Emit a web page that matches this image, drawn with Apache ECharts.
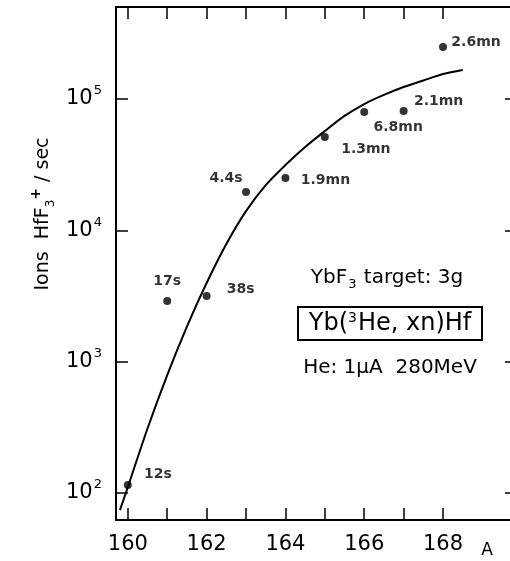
<!DOCTYPE html>
<html><head><meta charset="utf-8">
<script src="https://cdn.jsdelivr.net/npm/echarts@6/dist/echarts.min.js"></script>
<style>html,body{margin:0;padding:0;background:#fff}#c{width:510px;height:561px}</style>
</head><body><div id="c"></div>
<script>
// ---- data ----
const massNumbers = [160, 161, 162, 163, 164, 165, 166, 167, 168];
const ionRates = [115, 2900, 3160, 19600, 25000, 51400, 79500, 81100, 249000];
const halfLives = ['12s', '17s', '38s', '4.4s', '1.9mn', '1.3mn', '6.8mn', '2.1mn', '2.6mn'];
const curveMass = [159.8, 160, 160.5, 161, 161.5, 162, 162.5, 163, 163.5, 164, 164.5, 165, 165.5, 166, 166.5, 167, 167.5, 168, 168.5];
const curveRates = [74, 111, 310, 790, 1850, 3970, 7870, 14000, 22100, 31400, 43100, 57000, 74300, 91600, 107500, 123400, 138300, 155000, 166300];
const xTickValues = [160, 161, 162, 163, 164, 165, 166, 167, 168];
const xLabelValues = [160, 162, 164, 166, 168];
const yTickValues = [100, 1000, 10000, 100000];

// ---- layout ----
const labelOffsets = [[30, -11], [0, -20], [34, -7], [-20, -14], [40, 2], [41, 12], [34, 15], [35, -10], [33, -5]];
const FONT = 'DejaVu Sans';
const black = '#000';
const axisLineStyle = { color: black, width: 2 };
const tickStyle = { color: black, width: 1.5 };

const chart = echarts.init(document.getElementById('c'), null, { renderer: 'canvas' });
const xCommon = { type: 'value', min: 159.7, max: 169.7, splitLine: { show: false } };
const yCommon = { type: 'log', logBase: 10, min: 62.3, max: 501800, splitLine: { show: false }, minorTick: { show: false } };

chart.setOption({
  animation: false,
  backgroundColor: '#fff',
  grid: { left: 116, right: 0, top: 7, bottom: 41 },
  xAxis: [
    Object.assign({}, xCommon, {
      position: 'bottom',
      axisLine: { show: true, lineStyle: axisLineStyle },
      axisTick: { show: true, inside: true, length: 12, customValues: xTickValues, lineStyle: tickStyle },
      axisLabel: { customValues: xLabelValues, color: black, fontSize: 21, fontFamily: FONT, margin: 14 }
    }),
    Object.assign({}, xCommon, {
      position: 'top',
      axisLine: { show: true, lineStyle: axisLineStyle },
      axisTick: { show: true, inside: true, length: 12, customValues: xTickValues, lineStyle: tickStyle },
      axisLabel: { show: false }
    })
  ],
  yAxis: [
    Object.assign({}, yCommon, {
      position: 'left',
      axisLine: { show: true, lineStyle: axisLineStyle },
      axisTick: { show: true, inside: true, length: 12, customValues: yTickValues, lineStyle: tickStyle },
      axisLabel: {
        customValues: yTickValues, margin: 14, color: black, fontFamily: FONT,
        formatter: v => '{b|10}{sup|' + Math.round(Math.log10(v)) + '}',
        rich: {
          b: { fontSize: 21, fontFamily: FONT, color: black },
          sup: { fontSize: 13, fontFamily: FONT, color: black, verticalAlign: 'top', padding: [0, 0, 16, 1] }
        }
      }
    }),
    Object.assign({}, yCommon, {
      position: 'right',
      axisLine: { show: false },
      axisTick: { show: true, inside: true, length: 5, customValues: yTickValues, lineStyle: tickStyle },
      axisLabel: { show: false }
    })
  ],
  series: [
    {
      type: 'line',
      xAxisIndex: 0, yAxisIndex: 0,
      data: curveMass.map((m, i) => [m, curveRates[i]]),
      smooth: 0.3,
      symbol: 'none',
      lineStyle: { color: black, width: 2 },
      z: 2
    },
    {
      type: 'scatter',
      xAxisIndex: 0, yAxisIndex: 0,
      data: massNumbers.map((m, i) => ({ value: [m, ionRates[i]], label: { offset: labelOffsets[i] } })),
      symbol: 'circle',
      symbolSize: 8,
      itemStyle: { color: black },
      label: {
        show: true, position: 'inside', align: 'center', verticalAlign: 'middle',
        formatter: p => halfLives[p.dataIndex],
        color: black, fontSize: 14, fontWeight: 'bold', fontFamily: FONT, textBorderWidth: 0
      },
      z: 3
    }
  ],
  graphic: [
    {
      type: 'text', x: 43, y: 214, rotation: Math.PI / 2,
      style: {
        text: '{m|Ions  HfF}{sub|3}{sup|+}{m| / sec}',
        align: 'center', verticalAlign: 'middle', fill: black,
        rich: {
          m: { fontSize: 19, fontFamily: FONT, fill: black, lineHeight: 22 },
          sub: { fontSize: 12, fontFamily: FONT, fill: black, verticalAlign: 'bottom', padding: [10, 0, 0, 0] },
          sup: { fontSize: 14, fontFamily: FONT, fill: black, fontWeight: 'bold', verticalAlign: 'top', padding: [0, 0, 14, 0] }
        }
      }
    },
    {
      type: 'text', x: 387, y: 278,
      style: {
        text: '{m|YbF}{sub|3}{m| target: 3g}',
        align: 'center', verticalAlign: 'middle', fill: black,
        rich: {
          m: { fontSize: 20, fontFamily: FONT, fill: black, lineHeight: 22 },
          sub: { fontSize: 13, fontFamily: FONT, fill: black, verticalAlign: 'bottom', padding: [13, 1, 0, 1] }
        }
      }
    },
    {
      type: 'rect', shape: { x: 298, y: 307, width: 184, height: 33 },
      style: { fill: 'none', stroke: black, lineWidth: 2 }
    },
    {
      type: 'text', x: 390, y: 324,
      style: {
        text: '{m|Yb(}{sup|3}{m|He, xn)Hf}',
        align: 'center', verticalAlign: 'middle', fill: black,
        rich: {
          m: { fontSize: 24, fontFamily: FONT, fill: black, lineHeight: 26 },
          sup: { fontSize: 14, fontFamily: FONT, fill: black, verticalAlign: 'top', padding: [1, 1, 12, 0] }
        }
      }
    },
    {
      type: 'text', x: 390, y: 368,
      style: { text: 'He: 1μA  280MeV', align: 'center', verticalAlign: 'middle', fill: black, fontSize: 20, fontFamily: FONT }
    },
    {
      type: 'text', x: 487, y: 551,
      style: { text: 'A', align: 'center', verticalAlign: 'middle', fill: black, fontSize: 17, fontFamily: FONT }
    }
  ]
});
</script>
</body></html>
